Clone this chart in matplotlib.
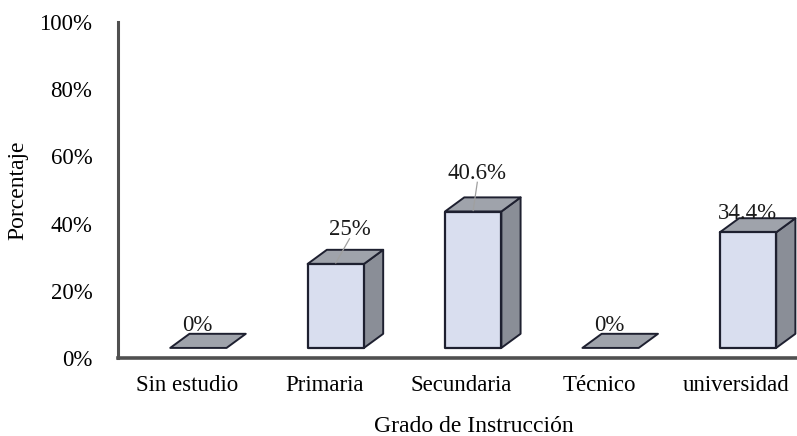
import matplotlib
matplotlib.use("Agg")
import matplotlib.pyplot as plt
from matplotlib.patches import Polygon

categories = ["Sin estudio", "Primaria", "Secundaria", "Técnico", "universidad"]
values = [0, 25, 40.6, 0, 34.4]
value_labels = ["0%", "25%", "40.6%", "0%", "34.4%"]
yticks = [0, 20, 40, 60, 80, 100]
ytick_labels = ["0%", "20%", "40%", "60%", "80%", "100%"]

plt.rcParams['font.family'] = ['Liberation Serif', 'DejaVu Serif']

W, H = 797, 436
fig = plt.figure(figsize=(W / 100, H / 100), dpi=100)
ax = fig.add_axes([118 / W, 78 / H, (805 - 118) / W, (358 - 22) / H])
ax.set_xlim(-0.5, 4.5)
ax.set_ylim(0, 100)

front_col = "#D9DEEF"
side_col = "#8A8E97"
top_col = "#9FA3AB"
edge_col = "#1E2030"

base = 3.0
off_l = -0.12
bw = 0.41
dx = 0.14
dy = 4.2

FS = 16.5

# label placement offsets (x in category units, y in data units) and leader flags
lab_dx = [-0.01, 0.10, 0.03, -0.01, -0.005]
lab_dy = [-0.6, 2.8, 4.0, -0.6, -1.8]
leader = [False, True, True, False, False]

for i, v in enumerate(values):
    x0 = i + off_l
    x1 = x0 + bw
    y0 = base
    y1 = base + v
    if v > 0:
        ax.add_patch(Polygon([(x1, y0), (x1 + dx, y0 + dy), (x1 + dx, y1 + dy), (x1, y1)],
                             closed=True, facecolor=side_col, edgecolor=edge_col, lw=1.4, zorder=3,
                             joinstyle='round'))
        ax.add_patch(Polygon([(x0, y1), (x0 + dx, y1 + dy), (x1 + dx, y1 + dy), (x1, y1)],
                             closed=True, facecolor=top_col, edgecolor=edge_col, lw=1.4, zorder=3,
                             joinstyle='round'))
        ax.add_patch(Polygon([(x0, y0), (x1, y0), (x1, y1), (x0, y1)],
                             closed=True, facecolor=front_col, edgecolor=edge_col, lw=1.6, zorder=4,
                             joinstyle='round'))
    else:
        ax.add_patch(Polygon([(x0, y0), (x0 + dx, y0 + dy), (x1 + dx, y0 + dy), (x1, y0)],
                             closed=True, facecolor=top_col, edgecolor=edge_col, lw=1.4, zorder=3,
                             joinstyle='round'))
    cx = (x0 + x1) / 2
    lx = cx + lab_dx[i]
    ly = y1 + dy + lab_dy[i]
    ax.text(lx, ly, value_labels[i], ha='center', va='bottom', fontsize=FS, color='#1a1a1a', zorder=6)
    if leader[i]:
        ax.plot([lx, cx], [ly + 0.5, y1 + 0.3], color='#A0A0A0', lw=0.9, zorder=5)

for s in ['top', 'right']:
    ax.spines[s].set_visible(False)
ax.spines['left'].set_color('#505050')
ax.spines['left'].set_linewidth(2.2)
ax.spines['bottom'].set_color('#505050')
ax.spines['bottom'].set_linewidth(2.6)

ax.set_yticks(yticks)
ax.set_yticklabels(ytick_labels, fontsize=FS)
ax.set_xticks(range(len(categories)))
ax.set_xticklabels(categories, fontsize=FS)
ax.tick_params(axis='y', length=0, pad=18.5)
ax.tick_params(axis='x', length=0, pad=12.5)
ax.set_xlabel("Grado de Instrucción", fontsize=17, labelpad=14, x=0.518)
ax.set_ylabel("Porcentaje", fontsize=17)
ax.yaxis.set_label_coords(-0.131, 0.5)

fig.savefig("out.png", dpi=100)
